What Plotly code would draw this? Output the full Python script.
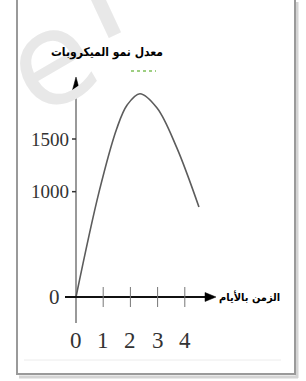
import plotly.graph_objects as go

# ---- data ----
time_days = [0, 0.85, 1.5, 1.88, 2.35, 2.98, 3.7, 4.52]
growth_rate = [0, 1000, 1600, 1823, 1930, 1794, 1420, 854]
x_ticks = [0, 1, 2, 3, 4]
y_ticks = [0, 1000, 1500]
y_title = "معدل نمو الميكروبات"
x_title = "الزمن بالأيام"

W, H = 306, 381
X0PX, XS = 76.0, 27.2          # px of x=0, px per day
Y0PX, YS = 297.0, 158.0 / 1500  # px of y=0, px per unit


def dx(px):
    return (px - X0PX) / XS


def dy(py):
    return (Y0PX - py) / YS


def px_x(px):
    return px / W


def px_y(py):
    return 1 - py / H


fig = go.Figure()
fig.add_trace(go.Scatter(x=time_days, y=growth_rate, mode="lines",
                         line=dict(color="#5c5c5c", width=1.6, shape="spline", smoothing=1.0),
                         hoverinfo="skip", showlegend=False))

shapes = []
annotations = []

# frame with shadow
shapes.append(dict(type="line", xref="paper", yref="paper", x0=px_x(297), x1=px_x(297),
                   y0=px_y(2), y1=px_y(378), line=dict(color="#d4d4d4", width=3)))
shapes.append(dict(type="line", xref="paper", yref="paper", x0=px_x(19), x1=px_x(298),
                   y0=px_y(377), y1=px_y(377), line=dict(color="#d4d4d4", width=3)))
shapes.append(dict(type="rect", xref="paper", yref="paper", x0=px_x(17), x1=px_x(295),
                   y0=px_y(-5), y1=px_y(374), line=dict(color="#9a9a9a", width=2)))
shapes.append(dict(type="line", xref="paper", yref="paper", x0=px_x(24), x1=px_x(281),
                   y0=px_y(360), y1=px_y(360), line=dict(color="#ececec", width=1)))

# watermark
annotations.append(dict(xref="paper", yref="paper", x=px_x(50), y=px_y(60), text="e",
                        showarrow=False, textangle=-30,
                        font=dict(family="DejaVu Sans", size=130, color="#e8e8e8"),
                        xanchor="center", yanchor="middle"))
annotations.append(dict(xref="paper", yref="paper", x=px_x(93), y=px_y(-12), text="l",
                        showarrow=False, textangle=-25,
                        font=dict(family="DejaVu Sans", size=150, color="#e8e8e8"),
                        xanchor="center", yanchor="middle"))

# y axis shaft and arrowhead
shapes.append(dict(type="line", xref="x", yref="y", x0=0, x1=0, y0=dy(323), y1=dy(88),
                   line=dict(color="#555555", width=1.2)))
shapes.append(dict(type="path", xref="x", yref="y",
                   path=f"M {dx(72.5)} {dy(90)} L {dx(79.5)} {dy(90)} L {dx(76)} {dy(77)} Z",
                   fillcolor="black", line=dict(color="black", width=0.5)))
# x axis shaft and arrowhead
shapes.append(dict(type="line", xref="x", yref="y", x0=dx(65), x1=dx(208), y0=0, y1=0,
                   line=dict(color="#111111", width=2)))
shapes.append(dict(type="path", xref="x", yref="y",
                   path=f"M {dx(205)} {dy(292.5)} L {dx(205)} {dy(301.5)} L {dx(216)} {dy(297)} Z",
                   fillcolor="black", line=dict(color="black", width=0.5)))

# x ticks and labels
for t in x_ticks:
    if t != 0:
        shapes.append(dict(type="line", xref="x", yref="y", x0=t, x1=t, y0=dy(287), y1=dy(307),
                           line=dict(color="#777777", width=1)))
    annotations.append(dict(xref="x", yref="y", x=t, y=dy(340), text=str(t), showarrow=False,
                            font=dict(family="Liberation Serif", size=23, color="#333333"),
                            xanchor="center", yanchor="middle"))

# y ticks and labels
for v in y_ticks:
    if v != 0:
        shapes.append(dict(type="line", xref="x", yref="y", x0=dx(72), x1=0, y0=v, y1=v,
                           line=dict(color="#333333", width=1.5)))
        annotations.append(dict(xref="x", yref="y", x=dx(71), y=v, text=str(v), showarrow=False,
                                font=dict(family="Liberation Serif", size=19, color="#333333"),
                                xanchor="right", yanchor="middle"))
    else:
        annotations.append(dict(xref="x", yref="y", x=dx(62), y=v, text=str(v), showarrow=False,
                                font=dict(family="Liberation Serif", size=21, color="#333333"),
                                xanchor="right", yanchor="middle"))

# titles
annotations.append(dict(xref="paper", yref="paper", x=px_x(107), y=px_y(52), text=f"<b>{y_title}</b>",
                        showarrow=False, font=dict(family="DejaVu Sans Condensed", size=12, color="black"),
                        xanchor="center", yanchor="middle"))
shapes.append(dict(type="line", xref="paper", yref="paper", x0=px_x(131), x1=px_x(156),
                   y0=px_y(71), y1=px_y(71), line=dict(color="#7fc05a", width=1.5, dash="dot")))
annotations.append(dict(xref="paper", yref="paper", x=px_x(217), y=px_y(297), text=f"<b>{x_title}</b>",
                        showarrow=False, font=dict(family="DejaVu Sans Condensed", size=11, color="black"),
                        xanchor="left", yanchor="middle"))

fig.update_layout(
    width=W, height=H, autosize=False,
    margin=dict(l=0, r=0, t=0, b=0),
    paper_bgcolor="white", plot_bgcolor="white",
    xaxis=dict(range=[dx(0), dx(W)], visible=False, fixedrange=True),
    yaxis=dict(range=[dy(H), dy(0)], visible=False, fixedrange=True),
    shapes=shapes, annotations=annotations, showlegend=False,
)

fig.write_html("out.html", config={"displayModeBar": False},
               post_script="document.body.style.margin='0';document.body.style.overflow='hidden';")
